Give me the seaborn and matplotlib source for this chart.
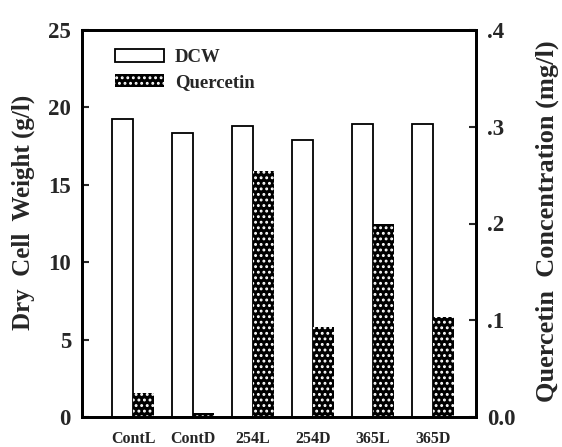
import matplotlib
matplotlib.use("Agg")
import matplotlib.pyplot as plt
import seaborn as sns
import pandas as pd
from matplotlib.ticker import FixedLocator, FixedFormatter
from matplotlib.patches import Patch

categories = ["ContL", "ContD", "254L", "254D", "365L", "365D"]
dcw = [19.25, 18.35, 18.8, 17.9, 18.95, 18.9]
quercetin = [0.025, 0.004, 0.254, 0.093, 0.2, 0.103]
left_ticks = [0, 5, 10, 15, 20, 25]
left_labels = ["0", "5", "10", "15", "20", "25"]
right_ticks = [0.0, 0.1, 0.2, 0.3, 0.4]
right_labels = ["0.0", ".1", ".2", ".3", ".4"]

sns.set_style("white")
plt.rcParams['font.family'] = ['Liberation Serif', 'DejaVu Serif']
plt.rcParams['font.weight'] = 'bold'
plt.rcParams['hatch.linewidth'] = 1.3

scale = 25 / 0.4
df = pd.DataFrame({
    "cat": categories * 2,
    "series": ["DCW"] * 6 + ["Quercetin"] * 6,
    "value": dcw + [q * scale for q in quercetin],
})

fig, ax = plt.subplots(figsize=(5.62, 4.47), dpi=100)
fig.subplots_adjust(left=0.146, right=0.847, top=0.933, bottom=0.067)

sns.barplot(data=df, x="cat", y="value", hue="series", order=categories,
            hue_order=["DCW", "Quercetin"], palette=["white", "black"],
            width=0.7, edgecolor="black", linewidth=1.3, ax=ax, legend=False)

n = len(categories)
for i, p in enumerate(ax.patches):
    if i >= n:
        p.set_facecolor("black")
        p.set_edgecolor("white")
        p.set_hatch("...")
        p.set_linewidth(0)

ax.set_xlim(-0.85, 5.72)
ax.set_ylim(0, 25)
ax.yaxis.set_major_locator(FixedLocator(left_ticks))
ax.yaxis.set_major_formatter(FixedFormatter(left_labels))
ax.set_xlabel("")
ax.set_ylabel("Dry  Cell  Weight (g/l)", fontsize=18, fontweight="bold")
ax.yaxis.set_label_coords(-0.12, 0.53)
ax.tick_params(axis="y", direction="in", length=5, width=1.5, labelsize=16.5, pad=8)
ax.tick_params(axis="x", length=0, labelsize=11.5, pad=10)
for s in ax.spines.values():
    s.set_linewidth(2)
    s.set_color("black")

ax2 = ax.twinx()
ax2.set_ylim(0, 0.4)
ax2.yaxis.set_major_locator(FixedLocator(right_ticks))
ax2.yaxis.set_major_formatter(FixedFormatter(right_labels))
ax2.set_ylabel("Quercetin  Concentration (mg/l)", fontsize=19, fontweight="bold")
ax2.yaxis.set_label_coords(1.152, 0.506)
ax2.tick_params(axis="y", direction="in", length=5, width=1.5, labelsize=16.5, pad=8)
for s in ax2.spines.values():
    s.set_linewidth(2)
    s.set_color("black")

handles = [Patch(facecolor="white", edgecolor="black", linewidth=1.3),
           Patch(facecolor="black", edgecolor="white", hatch="...", linewidth=0)]
ax.legend(handles, ["DCW", "Quercetin"], loc="upper left", bbox_to_anchor=(0.05, 0.985),
          frameon=False, fontsize=13.5, handlelength=2.6, handleheight=0.65,
          labelspacing=0.45, handletextpad=0.6, borderaxespad=0.3)

fig.savefig("out.png", dpi=100)
